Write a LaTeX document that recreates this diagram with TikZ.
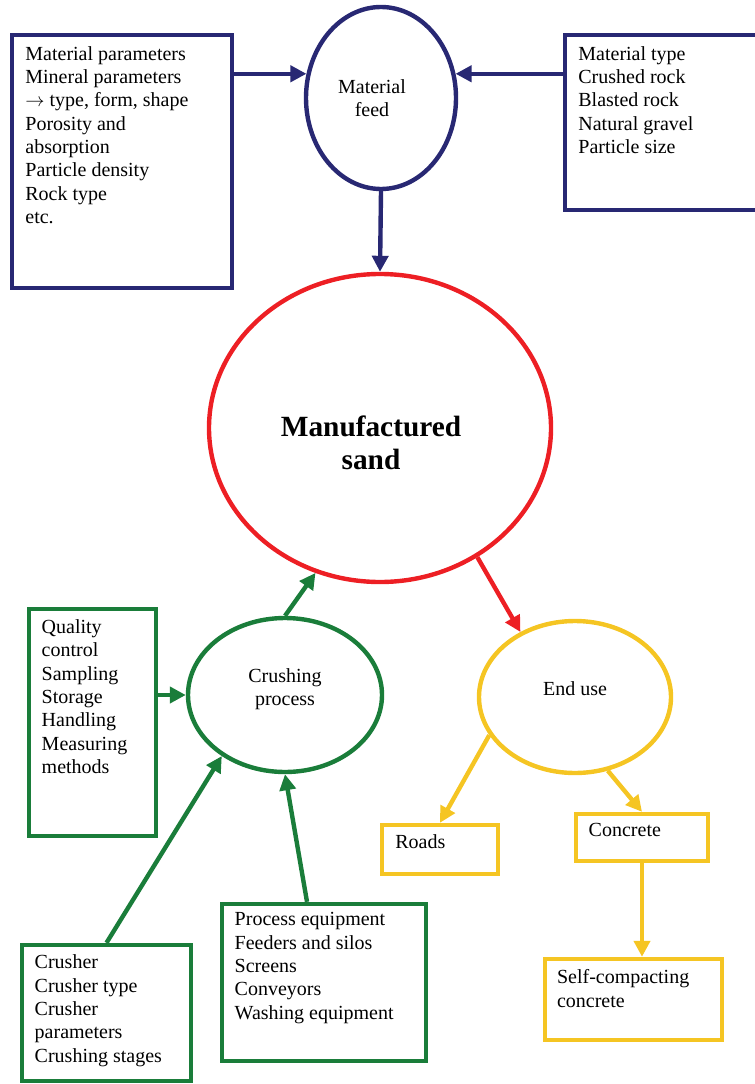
\documentclass[tikz,border=0pt]{standalone}
\usepackage{fontspec}
\setmainfont{Liberation Serif}
\usetikzlibrary{shapes.geometric,arrows.meta}
\definecolor{feednavy}{RGB}{40,40,115}
\definecolor{sandred}{RGB}{237,31,36}
\definecolor{crushgreen}{RGB}{26,125,58}
\definecolor{useyellow}{RGB}{245,197,35}
\begin{document}
\begin{tikzpicture}[x=0.75pt,y=-0.75pt,
  txt/.style={font=\fontsize{15}{17.5}\selectfont,align=left,inner sep=0pt,anchor=north west},
  oval/.style={ellipse,draw,line width=3.3pt,inner sep=0pt,font=\fontsize{15}{17}\selectfont,align=center},
  frame/.style={draw,line width=3.3pt,inner sep=0pt},
  link/.style={line width=3.3pt,-{Triangle[length=12pt,width=12pt]}}]
\useasboundingbox (0,0) rectangle (754,1084);
\node[oval,feednavy,text=black,minimum width=112.5pt,minimum height=136.5pt] (feed) at (381,98) {Material\kern13.5pt\\feed\kern13.5pt};
\node[oval,sandred,text=black,minimum width=256.5pt,minimum height=231pt,font=\bfseries\fontsize{22}{25}\selectfont,text height=62.7pt,text depth=0pt] (sand) at (380,428) {Manufactured\kern13.5pt\\sand\kern13.5pt};
\node[oval,crushgreen,text=black,minimum width=145.5pt,minimum height=115.5pt,text height=27pt,text depth=12pt] (crush) at (285,695) {Crushing\\process};
\node[oval,useyellow,text=black,minimum width=144pt,minimum height=114pt,text height=9.5pt,text depth=12.2pt] (enduse) at (575,697) {End use};
\node[frame,feednavy,minimum width=165pt,minimum height=189.75pt] (mparam) at (122,161.5) {};
\node[frame,feednavy,minimum width=153.75pt,minimum height=131.25pt] (mtype) at (667.5,122.5) {};
\node[frame,crushgreen,minimum width=95.25pt,minimum height=170.25pt] (quality) at (92.5,722.5) {};
\node[frame,crushgreen,minimum width=126.75pt,minimum height=102pt] (crusher) at (106.5,1013) {};
\node[frame,crushgreen,minimum width=153pt,minimum height=117.75pt] (process) at (324,982.5) {};
\node[frame,useyellow,minimum width=87pt,minimum height=36.75pt] (roads) at (440,849.5) {};
\node[frame,useyellow,minimum width=99pt,minimum height=35.25pt] (concrete) at (642,837.5) {};
\node[frame,useyellow,minimum width=132.75pt,minimum height=60.75pt] (scc) at (633.5,999.5) {};
\node[txt] (mparamtxt) at ([shift={(11.5pt,-10pt)}]mparam.north west) {Material parameters\\Mineral parameters\\$\rightarrow$ type, form, shape\\Porosity and\\absorption\\Particle density\\Rock type\\etc.};
\node[txt] (mtypetxt) at ([shift={(11.5pt,-10pt)}]mtype.north west) {Material type\\Crushed rock\\Blasted rock\\Natural gravel\\Particle size};
\node[txt] (qualitytxt) at ([shift={(11pt,-9.5pt)}]quality.north west) {Quality\\control\\Sampling\\Storage\\Handling\\Measuring\\methods};
\node[txt] (crushertxt) at ([shift={(11pt,-9pt)}]crusher.north west) {Crusher\\Crusher type\\Crusher\\parameters\\Crushing stages};
\node[txt] (processtxt) at ([shift={(11pt,-8pt)}]process.north west) {Process equipment\\Feeders and silos\\Screens\\Conveyors\\Washing equipment};
\node[txt] (roadstxt) at ([shift={(11.5pt,-9pt)}]roads.north west) {Roads};
\node[txt] (concretetxt) at ([shift={(11pt,-8.5pt)}]concrete.north west) {Concrete};
\node[txt] (scctxt) at ([shift={(10.5pt,-9.5pt)}]scc.north west) {Self-compacting\\concrete};
\draw[link,feednavy] (mparam.east |- feed.162) -- (feed.162);
\draw[link,feednavy] (mtype.west |- feed.18) -- (feed.18);
\draw[link,feednavy] (feed.south) -- (sand.north);
\draw[link,sandred] (sand.-53) -- (enduse.130);
\draw[link,crushgreen] (crush.north) -- (sand.246);
\draw[link,crushgreen] (quality.east |- crush.west) -- (crush.west);
\draw[link,crushgreen] (crusher.north) -- (crush.224);
\draw[link,crushgreen] ([xshift=-12.75pt]process.north) -- (crush.south);
\draw[link,useyellow] (enduse.204) -- (roads.north);
\draw[link,useyellow] (enduse.-66) -- (concrete.north);
\draw[link,useyellow] (concrete.south) -- (concrete.south |- scc.north);
\end{tikzpicture}
\end{document}
